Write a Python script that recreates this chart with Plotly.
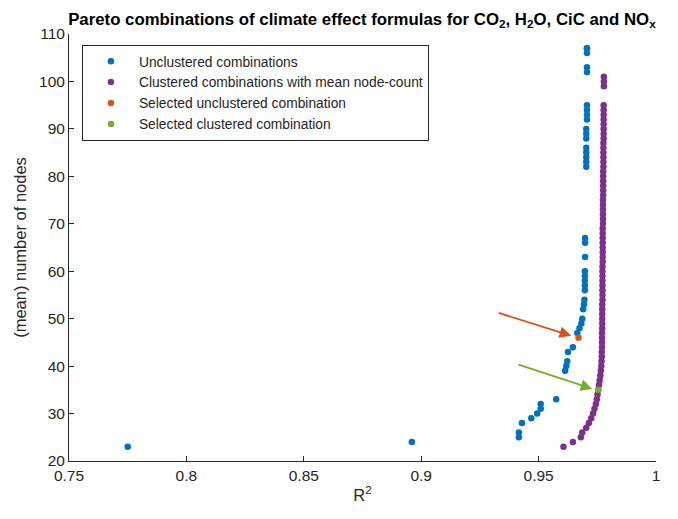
import plotly.graph_objects as go

# Unclustered combinations (R^2, number of nodes)
unclustered_r2 = [0.775, 0.896, 0.9416, 0.9416, 0.9429, 0.9469, 0.9494, 0.9509, 0.9509, 0.9575,
                  0.9613, 0.9618, 0.9622, 0.9625, 0.9646, 0.9665, 0.9674, 0.9682, 0.9686, 0.9690,
                  0.9693, 0.9695, 0.9697, 0.9697, 0.9697, 0.9697, 0.9697, 0.9698, 0.9698, 0.9698,
                  0.9703, 0.9703, 0.9703, 0.9703, 0.9703, 0.9703, 0.9703, 0.9703,
                  0.9706, 0.9706, 0.9706, 0.9706, 0.9706, 0.9706, 0.9706, 0.9706, 0.9706]
unclustered_nodes = [23, 24, 25, 26, 28, 29, 30, 31, 32, 33,
                     39, 40, 41, 43, 44, 47, 48, 49, 50, 52,
                     53, 54, 56, 57, 58, 59, 60, 63, 66, 67,
                     82, 83, 84, 85, 86, 88, 89, 90,
                     92, 93, 94, 95, 102, 103, 106, 107, 107]

# Clustered combinations with mean node-count
clustered_nodes = [23, 24, 25, 26, 27, 28, 29, 30, 31, 32, 33, 34, 35, 36, 37, 38, 39, 40,
                   41, 42, 43, 44, 45, 46, 47, 48, 49, 50, 51, 52, 53, 54, 55, 56, 57, 58, 59, 60,
                   61, 62, 63, 64, 65, 66, 67, 68, 69, 70, 71, 72, 73, 74, 75, 76, 77, 78, 79, 80,
                   81, 82, 83, 84, 85, 86, 87, 88, 89, 90, 91, 92, 93, 94, 95, 99, 100, 101]
clustered_r2 = [0.9606, 0.9646, 0.9680, 0.9686, 0.9703, 0.9714, 0.9724, 0.9732, 0.9738, 0.9744,
                0.9748, 0.9751, 0.9754, 0.9757, 0.9760, 0.9763, 0.9765, 0.9767,
                0.9768, 0.9769, 0.9769, 0.9770, 0.9770, 0.9770, 0.9770, 0.9771, 0.9771, 0.9771,
                0.9771, 0.9771, 0.9771, 0.9772, 0.9772, 0.9772, 0.9772, 0.9772, 0.9772, 0.9772,
                0.9772, 0.9773, 0.9773, 0.9773, 0.9773, 0.9773, 0.9773, 0.9773, 0.9773, 0.9774,
                0.9774, 0.9774, 0.9774, 0.9774, 0.9774, 0.9775, 0.9775, 0.9775, 0.9775, 0.9775,
                0.9775, 0.9776, 0.9776, 0.9776, 0.9776, 0.9776, 0.9776, 0.9777, 0.9777, 0.9777,
                0.9777, 0.9777, 0.9777, 0.9777, 0.9777, 0.9778, 0.9778, 0.9778]

# Selected combinations
sel_unclustered_r2 = [0.9670]
sel_unclustered_nodes = [46]
sel_clustered_r2 = [0.9754]
sel_clustered_nodes = [35]

# Arrows (tail, head) in data coordinates
arrow_orange = dict(x0=0.9324, y0=51.3, x1=0.9639, y1=46.4)
arrow_green = dict(x0=0.9408, y0=40.4, x1=0.9729, y1=35.2)

x_ticks = [0.75, 0.8, 0.85, 0.9, 0.95, 1.0]
x_tick_labels = ["0.75", "0.8", "0.85", "0.9", "0.95", "1"]
y_ticks = [20, 30, 40, 50, 60, 70, 80, 90, 100, 110]

BLUE = "#0072BD"
PURPLE = "#7E2F8E"
ORANGE = "#D95319"
GREEN = "#77AC30"
AX = "#262626"
FONT = "Liberation Sans, Arial, sans-serif"

fig = go.Figure()
fig.add_trace(go.Scatter(x=unclustered_r2, y=unclustered_nodes, mode="markers",
                         marker=dict(color=BLUE, size=6.5), name="Unclustered combinations"))
fig.add_trace(go.Scatter(x=clustered_r2, y=clustered_nodes, mode="markers",
                         marker=dict(color=PURPLE, size=6.5),
                         name="Clustered combinations with mean node-count"))
fig.add_trace(go.Scatter(x=sel_unclustered_r2, y=sel_unclustered_nodes, mode="markers",
                         marker=dict(color=ORANGE, size=6.5),
                         name="Selected unclustered combination"))
fig.add_trace(go.Scatter(x=sel_clustered_r2, y=sel_clustered_nodes, mode="markers",
                         marker=dict(color=GREEN, size=6.5),
                         name="Selected clustered combination"))

for arr, col in [(arrow_orange, ORANGE), (arrow_green, GREEN)]:
    fig.add_annotation(x=arr["x1"], y=arr["y1"], ax=arr["x0"], ay=arr["y0"],
                       xref="x", yref="y", axref="x", ayref="y",
                       showarrow=True, arrowhead=2, arrowsize=1.3, arrowwidth=1.8,
                       arrowcolor=col, text="", standoff=0)

fig.update_layout(
    width=678, height=519,
    margin=dict(l=61, r=30, t=26, b=66),
    paper_bgcolor="white", plot_bgcolor="white",
    font=dict(family=FONT, size=16, color=AX),
    title=dict(text="<b>Pareto combinations of climate effect formulas for CO<sub>2</sub>, "
                    "H<sub>2</sub>O, CiC and NO<sub>x</sub></b>",
               x=0.522, xanchor="center", y=0.99, yanchor="top",
               font=dict(size=16.8, color="black")),
    showlegend=True,
    legend=dict(x=0.022, y=0.975, xanchor="left", yanchor="top",
                bgcolor="white", bordercolor=AX, borderwidth=1,
                font=dict(size=13.8, color=AX), itemwidth=46,
                tracegroupgap=0),
    xaxis=dict(range=[0.75, 1.0], tickvals=x_ticks, ticktext=x_tick_labels,
               showgrid=False, zeroline=False, showline=True, linecolor=AX, linewidth=1,
               ticks="inside", ticklen=5, tickcolor=AX, automargin=False,
               title=dict(text="R<sup>2</sup>", standoff=6, font=dict(size=16.5)),
               tickfont=dict(size=15.5)),
    yaxis=dict(range=[20, 110], tickvals=y_ticks,
               showgrid=False, zeroline=False, showline=True, linecolor=AX, linewidth=1,
               ticks="inside", ticklen=5, tickcolor=AX, automargin=False,
               title=dict(text="(mean) number of nodes", standoff=8, font=dict(size=16.5)),
               tickfont=dict(size=15.5)),
)

fig.write_html("out.html")
